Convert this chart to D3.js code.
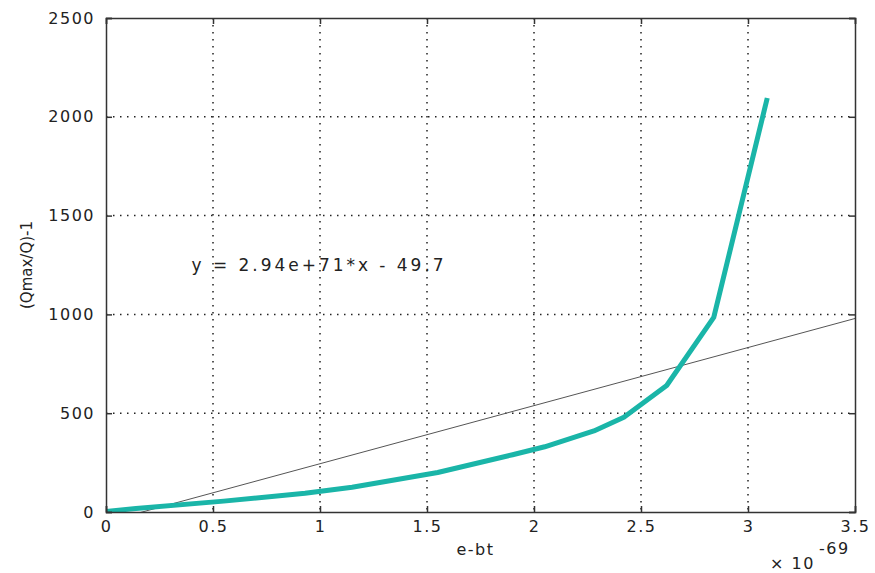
<!DOCTYPE html>
<html>
<head>
<meta charset="utf-8">
<script src="https://cdn.jsdelivr.net/npm/d3@7"></script>
<style>
  html, body { margin: 0; padding: 0; background: #fff; }
  svg { display: block; }
  text { font-family: "DejaVu Sans", sans-serif; fill: #222; }
</style>
</head>
<body>
<svg id="chart" width="875" height="573"></svg>
<script>
// ---- data (x in units of 1e-69) ----
const xValues = [0, 0.14, 0.55, 0.93, 1.15, 1.55, 1.9, 2.05, 2.28, 2.42, 2.62, 2.84, 3.09];
const yValues = [3, 18, 55, 95, 125, 200, 290, 330, 410, 480, 640, 985, 2095];
const fitSlope = 294;       // 2.94e+71 * 1e-69
const fitIntercept = -49.7;
const fitLabel = "y = 2.94e+71*x - 49.7";
const xTicks = [0, 0.5, 1, 1.5, 2, 2.5, 3, 3.5];
const yTicks = [0, 500, 1000, 1500, 2000, 2500];
const xLabel = "e-bt";
const yLabel = "(Qmax/Q)-1";

const svg = d3.select("#chart");
const L = 106, R = 855, T = 18, B = 512;
const x = d3.scaleLinear().domain([0, 3.5]).range([L, R]);
const y = d3.scaleLinear().domain([0, 2500]).range([B, T]);

svg.append("defs").append("clipPath").attr("id", "clip")
  .append("rect").attr("x", L).attr("y", T).attr("width", R - L).attr("height", B - T);

// grid
const grid = svg.append("g").attr("stroke", "#222").attr("stroke-width", 1.5)
  .attr("stroke-dasharray", "1.5,5.5");
grid.selectAll(".gx").data(xTicks.slice(1, -1)).join("line")
  .attr("x1", d => x(d)).attr("x2", d => x(d)).attr("y1", T).attr("y2", B);
grid.selectAll(".gy").data(yTicks.slice(1, -1)).join("line")
  .attr("y1", d => y(d)).attr("y2", d => y(d)).attr("x1", L).attr("x2", R);

// fit line
const plot = svg.append("g").attr("clip-path", "url(#clip)");
plot.append("line")
  .attr("x1", x(0)).attr("y1", y(fitIntercept))
  .attr("x2", x(3.5)).attr("y2", y(fitSlope * 3.5 + fitIntercept))
  .attr("stroke", "#555").attr("stroke-width", 1);

// data curve
const pts = xValues.map((v, i) => [v, yValues[i]]);
plot.append("path")
  .datum(pts)
  .attr("fill", "none")
  .attr("stroke", "#1ab5a8")
  .attr("stroke-width", 5)
  .attr("stroke-linejoin", "round")
  .attr("d", d3.line().x(d => x(d[0])).y(d => y(d[1])));

// axes
const fmtX = d => d === 0 ? "0" : String(d);
const ax = svg.append("g");
ax.append("g").attr("transform", `translate(0,${B})`)
  .call(d3.axisBottom(x).tickValues(xTicks).tickFormat(fmtX).tickSize(-6).tickPadding(9));
ax.append("g").attr("transform", `translate(0,${T})`)
  .call(d3.axisTop(x).tickValues(xTicks).tickFormat("").tickSize(-6));
ax.append("g").attr("transform", `translate(${L},0)`)
  .call(d3.axisLeft(y).tickValues(yTicks).tickFormat(d3.format("d")).tickSize(-6).tickPadding(11));
ax.append("g").attr("transform", `translate(${R},0)`)
  .call(d3.axisRight(y).tickValues(yTicks).tickFormat("").tickSize(-6));
ax.selectAll("g").attr("font-size", 16).attr("font-family", "DejaVu Sans, sans-serif");
ax.selectAll(".domain").attr("stroke", "#333").attr("stroke-width", 1.5);
ax.selectAll(".tick line").attr("stroke", "#333").attr("stroke-width", 1.5);
ax.selectAll("text").attr("fill", "#222").style("letter-spacing", "1.5px");

// annotation
svg.append("text")
  .attr("x", x(0.4)).attr("y", y(1250))
  .attr("dy", "0.36em")
  .attr("font-size", 17)
  .attr("textLength", 252).attr("lengthAdjust", "spacing")
  .text(fitLabel);

// axis labels
svg.append("text").attr("x", (L + R) / 2 - 5).attr("y", 555)
  .attr("text-anchor", "middle").attr("font-size", 16).style("letter-spacing", "1.5px").text(xLabel);
svg.append("text").attr("transform", `translate(32,${(T + B) / 2}) rotate(-90)`)
  .attr("text-anchor", "middle").attr("font-size", 15).attr("fill", "#333").text(yLabel);

// exponent
svg.append("text").attr("x", 770).attr("y", 569).attr("font-size", 16)
  .style("letter-spacing", "1.5px").text("× 10");
svg.append("text").attr("x", 819).attr("y", 554).attr("font-size", 16)
  .style("letter-spacing", "1.5px").text("-69");
</script>
</body>
</html>
